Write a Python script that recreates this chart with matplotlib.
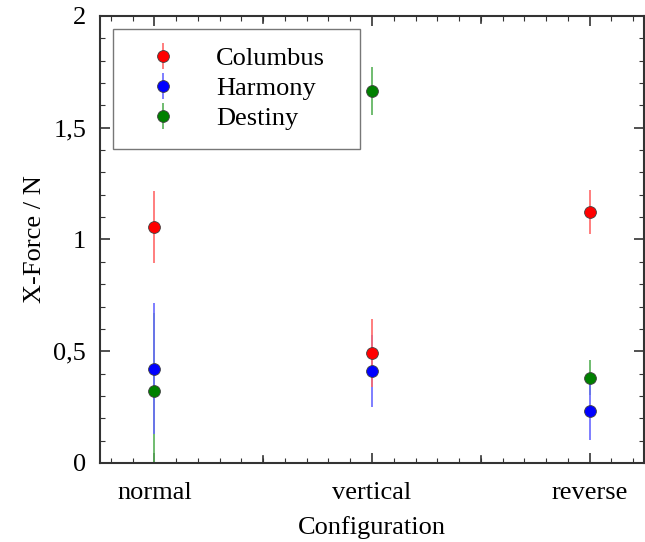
import numpy as np
import matplotlib.pyplot as plt
from matplotlib.ticker import MultipleLocator, FuncFormatter

# Data
configs = ['normal', 'vertical', 'reverse']
columbus = [1.057, 0.492, 1.123]
columbus_err = [0.16, 0.15, 0.097]
harmony = [0.422, 0.412, 0.233]
harmony_err = [0.293, 0.16, 0.13]
destiny = [0.322, 1.663, 0.382]
destiny_err = [0.35, 0.108, 0.08]

plt.rcParams['font.family'] = ['Liberation Serif', 'DejaVu Serif']
plt.rcParams['font.size'] = 19

fig = plt.figure(figsize=(6.45, 5.42), dpi=100)
ax = fig.add_axes([0.155, 0.1458, 0.8435, 0.8247])

x = np.arange(1, len(configs) + 1)
series = [
    (columbus, columbus_err, 'red', '#ff6868', 'Columbus', 4),
    (harmony, harmony_err, 'blue', '#6868ff', 'Harmony', 3),
    (destiny, destiny_err, 'green', '#58b058', 'Destiny', 2),
]
for vals, errs, c, ec, lab, z in series:
    # bars underneath, markers on top
    ax.errorbar(x, vals, yerr=errs, fmt='none', ecolor=ec,
                elinewidth=1.2, capsize=0, zorder=z)
for vals, errs, c, ec, lab, z in series:
    ax.errorbar([], [], yerr=[], fmt='o', color=c, ecolor=ec,
                elinewidth=1.2, capsize=0, markersize=8.5,
                markeredgecolor='#404040', markeredgewidth=0.6, label=lab)
    ax.plot(x, vals, 'o', color=c, markersize=8.5,
            markeredgecolor='#404040', markeredgewidth=0.6, zorder=6)

ax.set_xlim(0.75, 3.25)
ax.set_ylim(0, 2)
ax.set_xticks(x)
ax.set_xticklabels(configs)
ax.xaxis.set_minor_locator(MultipleLocator(0.1))
ax.yaxis.set_major_locator(MultipleLocator(0.5))
ax.yaxis.set_minor_locator(MultipleLocator(0.1))
ax.yaxis.set_major_formatter(FuncFormatter(lambda v, p: ('%g' % v).replace('.', ',')))

# longer ticks at the half positions on x
for xv in [1.5, 2.5]:
    ax.axvline(xv, ymin=0, ymax=0.015, color='#333333', lw=1.2)
    ax.axvline(xv, ymin=0.985, ymax=1, color='#333333', lw=1.2)

ax.tick_params(which='both', direction='in', top=True, right=True, color='#333333')
ax.tick_params(which='major', length=7, width=1.2, pad=14)
ax.tick_params(which='minor', length=3.5, width=0.8)
ax.tick_params(axis='y', which='major', pad=10)
for s in ax.spines.values():
    s.set_color('#333333')
    s.set_linewidth(1.5)

ax.set_xlabel('Configuration', labelpad=8)
ax.set_ylabel('X-Force / N', labelpad=5)

leg = ax.legend(loc='upper left', bbox_to_anchor=(0.024, 0.0, 0.454, 0.972),
                mode='expand', frameon=True,
                fancybox=False, edgecolor='#555555', handletextpad=0.8,
                labelspacing=0.24, borderpad=0.7, handlelength=2.4,
                borderaxespad=0.0)
leg.get_frame().set_linewidth(1.0)

plt.savefig('out.png', dpi=100)
